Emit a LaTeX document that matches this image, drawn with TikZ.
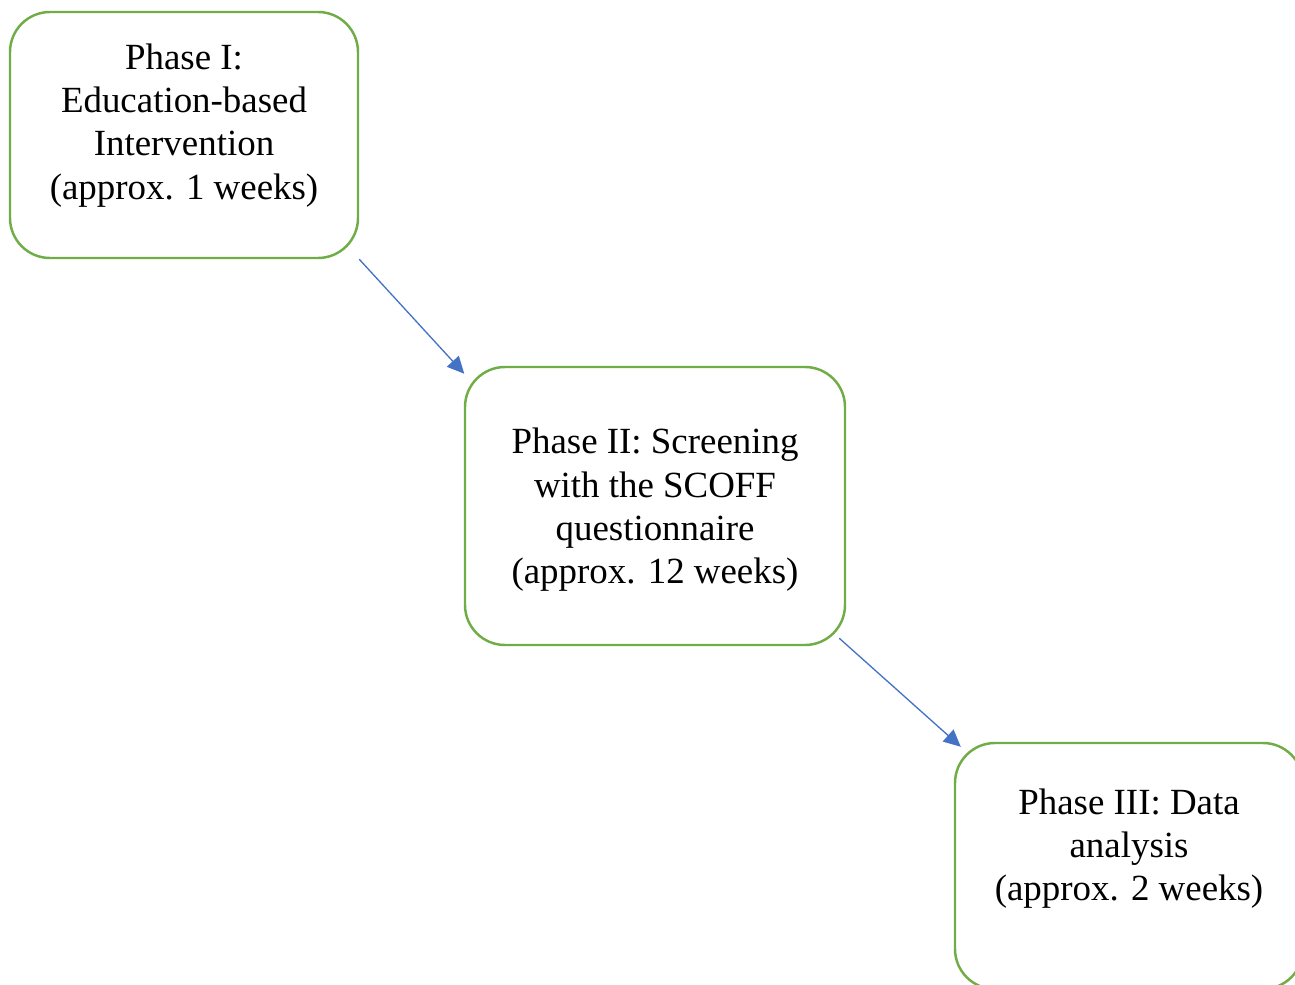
\documentclass[tikz,border=0pt]{standalone}
\usepackage{fontspec}
\setmainfont{Liberation Serif}
\usetikzlibrary{arrows.meta}

\definecolor{phasegreen}{HTML}{70AD47}
\definecolor{flowblue}{HTML}{4472C4}

\tikzset{
  phasebox/.style={draw=phasegreen, line width=1.4pt, rounded corners=0.8cm,
    rectangle, align=center, inner sep=0pt,
    font=\fontsize{21}{24.6}\selectfont},
  flow/.style={draw=flowblue, line width=0.75pt,
    -{Triangle[length=0.34cm, width=0.32cm]}}
}

\begin{document}
\begin{tikzpicture}
  \useasboundingbox (0,0) rectangle (25.9,-19.7);
  \node[phasebox, minimum width=6.96cm, minimum height=4.92cm, text depth=0.54cm] (phaseI) at (3.68,-2.70)
    {Phase I:\\Education-based\\Intervention\\(approx. 1 weeks)};
  \node[phasebox, minimum width=7.60cm, minimum height=5.56cm, text depth=-0.02cm] (phaseII) at (13.10,-10.12)
    {Phase II: Screening\\with the SCOFF\\questionnaire\\(approx. 12 weeks)};
  \node[phasebox, minimum width=6.96cm, minimum height=4.92cm, text depth=0.86cm] (phaseIII) at (22.58,-17.32)
    {Phase III: Data\\analysis\\(approx. 2 weeks)};
  % Draw the phase order
  \draw[flow] (phaseI.south east) -- ([shift={(0.01,-0.16)}]phaseII.north west);
  \draw[flow] ([shift={(-0.14,0.16)}]phaseII.south east) -- ([shift={(0.14,-0.1)}]phaseIII.north west);
\end{tikzpicture}
\end{document}
